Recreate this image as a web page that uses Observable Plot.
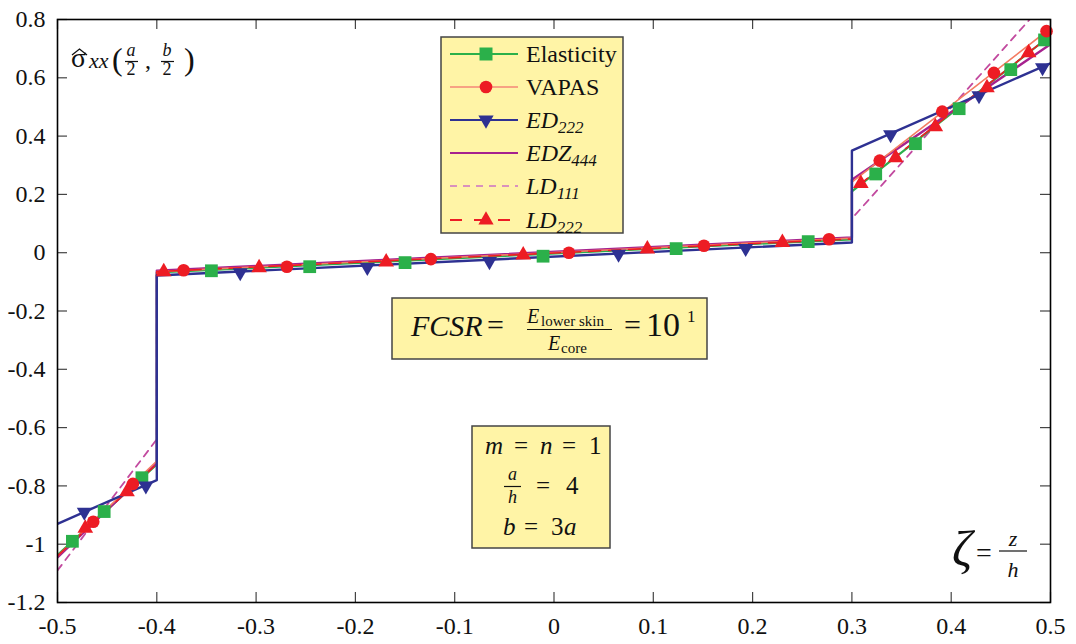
<!DOCTYPE html>
<html><head><meta charset="utf-8">
<script src="https://cdn.jsdelivr.net/npm/d3@7"></script>
<script src="https://cdn.jsdelivr.net/npm/@observablehq/plot@0.6"></script>
<style>
body{margin:0;background:#fff}
#chart{position:relative;width:1076px;height:644px}
#chart svg, #chart svg text{font-family:"Liberation Serif",serif !important}
</style>
</head><body><div id="chart"></div>
<script>
// ---------- data ----------
const xTicks = [-0.5,-0.4,-0.3,-0.2,-0.1,0,0.1,0.2,0.3,0.4,0.5];
const xTickLabels = ["-0.5","-0.4","-0.3","-0.2","-0.1","0","0.1","0.2","0.3","0.4","0.5"];
const yTicks = [-1.2,-1,-0.8,-0.6,-0.4,-0.2,0,0.2,0.4,0.6,0.8];
const yTickLabels = ["-1.2","-1","-0.8","-0.6","-0.4","-0.2","0","0.2","0.4","0.6","0.8"];

const seriesNames = ["Elasticity","VAPAS","ED222","EDZ444","LD111","LD222"];

// line breakpoints (z/h): lower skin | core | upper skin
const zBreaks = [-0.5,-0.4,-0.4,0.3,0.3,0.5];
const elasticityLine = [-1.037,-0.726,-0.068,0.046,0.21,0.745];
const vapasLine      = [-1.04,-0.715,-0.065,0.05,0.242,0.77];
const ed222Line      = [-0.93,-0.78,-0.078,0.035,0.35,0.65];
const edz444Line     = [-1.045,-0.72,-0.062,0.052,0.25,0.715];
const ld111Line      = [-1.09,-0.64,-0.063,0.05,0.117,0.88];
const ld222Line      = [-1.04,-0.725,-0.065,0.047,0.213,0.745];

// marker positions
const elasticityMarkZ = [-0.485,-0.453,-0.415,-0.345,-0.246,-0.15,-0.011,0.123,0.256,0.324,0.364,0.408,0.46,0.494];
const elasticityMarkS = [-0.99,-0.888,-0.772,-0.062,-0.048,-0.034,-0.012,0.014,0.038,0.27,0.374,0.494,0.628,0.73];
const vapasMarkZ = [-0.464,-0.424,-0.373,-0.269,-0.124,0.015,0.151,0.277,0.328,0.391,0.443,0.496];
const vapasMarkS = [-0.923,-0.793,-0.06,-0.048,-0.022,0.0,0.024,0.046,0.316,0.484,0.617,0.76];
const ed222MarkZ = [-0.473,-0.411,-0.316,-0.188,-0.065,0.065,0.193,0.339,0.428,0.492];
const ed222MarkS = [-0.89,-0.8,-0.068,-0.05,-0.03,-0.005,0.015,0.405,0.539,0.635];
const ld222MarkZ = [-0.472,-0.43,-0.393,-0.297,-0.169,-0.031,0.094,0.23,0.309,0.344,0.384,0.436,0.478];
const ld222MarkS = [-0.945,-0.82,-0.065,-0.052,-0.032,-0.008,0.013,0.035,0.237,0.326,0.432,0.566,0.686];

// ---------- tables ----------
const toRows = (zs, ss) => zs.map((z,i)=>({z, s: ss[i]}));
const lineElasticity = toRows(zBreaks, elasticityLine);
const lineVapas = toRows(zBreaks, vapasLine);
const lineEd222 = toRows(zBreaks, ed222Line);
const lineEdz444 = toRows(zBreaks, edz444Line);
const lineLd111 = toRows(zBreaks, ld111Line);
const lineLd222 = toRows(zBreaks, ld222Line);

const C = {
  elasticity: "#2bb04a",
  vapasLine: "#f47c62",
  red: "#ed1c24",
  blue: "#2e3192",
  purple: "#a6218e",
  ld111: "#c24a9f"
};

const W = 1076, H = 644, ML = 57, MR = 26, MT = 19, MB = 42;
const FW = W - ML - MR, FH = H - MT - MB;
const FONT = "Liberation Serif, serif";

const plot = Plot.plot({
  width: W, height: H,
  marginLeft: ML, marginRight: MR, marginTop: MT, marginBottom: MB,
  style: {fontFamily: FONT, background: "white", color: "#111"},
  x: {domain: [-0.5, 0.5]},
  y: {domain: [-1.2, 0.8]},
  marks: [
    Plot.axisX({ticks: xTicks, tickSize: 0, tickPadding: 14, fontSize: 24,
      tickFormat: d => xTickLabels[xTicks.indexOf(d)], label: null}),
    Plot.axisY({ticks: yTicks, tickSize: 0, tickPadding: 12, fontSize: 24,
      tickFormat: d => yTickLabels[yTicks.indexOf(d)], label: null}),
    // inward ticks
    Plot.tickX(xTicks, {x: d => d, insetTop: FH - 10, stroke: "#444", strokeWidth: 1.2}),
    Plot.tickX(xTicks, {x: d => d, insetBottom: FH - 10, stroke: "#444", strokeWidth: 1.2}),
    Plot.tickY(yTicks, {y: d => d, insetRight: FW - 10, stroke: "#444", strokeWidth: 1.2}),
    Plot.tickY(yTicks, {y: d => d, insetLeft: FW - 10, stroke: "#444", strokeWidth: 1.2}),
    // lines
    Plot.line(lineLd111, {x: "z", y: "s", stroke: C.ld111, strokeWidth: 1.8, strokeDasharray: "7,6", clip: true}),
    Plot.line(lineElasticity, {x: "z", y: "s", stroke: C.elasticity, strokeWidth: 2.2, clip: true}),
    Plot.line(lineEdz444, {x: "z", y: "s", stroke: C.purple, strokeWidth: 2.4, clip: true}),
    Plot.line(lineVapas, {x: "z", y: "s", stroke: C.vapasLine, strokeWidth: 1.6, clip: true}),
    Plot.line(lineLd222, {x: "z", y: "s", stroke: C.red, strokeWidth: 1.6, strokeDasharray: "12,8", clip: true}),
    Plot.line(lineEd222, {x: "z", y: "s", stroke: C.blue, strokeWidth: 2.4, clip: true}),
    // markers
    Plot.dot(toRows(elasticityMarkZ, elasticityMarkS), {x: "z", y: "s", symbol: "square", r: 7.2, fill: C.elasticity, stroke: "none"}),
    Plot.dot(toRows(vapasMarkZ, vapasMarkS), {x: "z", y: "s", symbol: "circle", r: 6.3, fill: C.red, stroke: "none"}),
    Plot.dot(toRows(ed222MarkZ, ed222MarkS), {x: "z", y: "s", symbol: "triangle", r: 5.6, rotate: 180, fill: C.blue, stroke: "none"}),
    Plot.dot(toRows(ld222MarkZ, ld222MarkS), {x: "z", y: "s", symbol: "triangle", r: 5.8, fill: C.red, stroke: "none"}),
    Plot.frame({stroke: "#000", strokeWidth: 1.6})
  ]
});
document.getElementById("chart").appendChild(plot);

// ---------- annotations ----------
const svg = d3.select(plot);
const ann = svg.append("g").attr("font-family", FONT).attr("fill", "#111").attr("text-anchor", "start");
function t(x, y, s, size, opts = {}) {
  const e = ann.append("text").attr("x", x).attr("y", y).attr("font-size", size)
    .attr("text-anchor", opts.anchor || "start").text(s);
  if (opts.italic) e.attr("font-style", "italic");
  return e;
}
function hline(x1, x2, y, w = 1.2) {
  ann.append("line").attr("x1", x1).attr("x2", x2).attr("y1", y).attr("y2", y)
    .attr("stroke", "#111").attr("stroke-width", w);
}
const BOXFILL = "#fff4a6", BOXSTROKE = "#444";
function box(x, y, w, h) {
  ann.append("rect").attr("x", x).attr("y", y).attr("width", w).attr("height", h)
    .attr("fill", BOXFILL).attr("stroke", BOXSTROKE).attr("stroke-width", 1.5);
}

// sigma hat label
t(71, 67, "σ", 28);
ann.append("path").attr("d", "M72,55 L79.5,49 L87,55").attr("fill", "none").attr("stroke", "#111").attr("stroke-width", 1.3);
t(89, 68, "xx", 22, {italic: true});
t(112, 70, "(", 32);
t(131, 56, "a", 18, {italic: true, anchor: "middle"});
hline(125, 138, 61.5);
t(131, 75, "2", 18, {anchor: "middle"});
t(145, 68, ",", 24);
t(167, 56, "b", 18, {italic: true, anchor: "middle"});
hline(161, 174, 61.5);
t(167, 75, "2", 18, {anchor: "middle"});
t(184, 70, ")", 32);

// legend
box(441, 37, 182, 196);
const legendY = [54, 87, 120, 153, 186, 220];
const legendMain = ["Elasticity","VAPAS","ED","EDZ","LD","LD"];
const legendSub  = ["","","222","444","111","222"];
const legendItalic = [false,false,true,true,true,true];
const legendStyle = [
  {stroke: C.elasticity, w: 2, dash: null, sym: d3.symbolSquare, size: 169, fill: C.elasticity, rot: 0},
  {stroke: "#f7a283", w: 2, dash: null, sym: d3.symbolCircle, size: 125, fill: C.red, rot: 0},
  {stroke: C.blue, w: 2, dash: null, sym: d3.symbolTriangle, size: 100, fill: C.blue, rot: 180},
  {stroke: C.purple, w: 2, dash: null, sym: null},
  {stroke: "#d991bd", w: 2, dash: "7,6", sym: null},
  {stroke: C.red, w: 2, dash: "12,12", sym: d3.symbolTriangle, size: 100, fill: C.red, rot: 0}
];
legendY.forEach((y, i) => {
  const st = legendStyle[i];
  const l = ann.append("line").attr("x1", 450).attr("x2", 518).attr("y1", y).attr("y2", y)
    .attr("stroke", st.stroke).attr("stroke-width", st.w);
  if (st.dash) l.attr("stroke-dasharray", st.dash);
  if (st.sym) {
    ann.append("path").attr("d", d3.symbol(st.sym, st.size)())
      .attr("transform", `translate(486,${y}) rotate(${st.rot})`).attr("fill", st.fill);
  }
  const tx = ann.append("text").attr("x", 526).attr("y", y + 8).attr("font-size", 24).attr("text-anchor", "start");
  const m = tx.append("tspan").text(legendMain[i]);
  if (legendItalic[i]) m.attr("font-style", "italic");
  if (legendSub[i]) tx.append("tspan").attr("font-size", 17).attr("dy", 5).attr("font-style", "italic").text(legendSub[i]);
});

// FCSR box
box(392, 298, 315, 61);
t(411, 336, "FCSR", 30, {italic: true});
t(487, 335, "=", 30);
t(527, 323, "E", 20, {italic: true});
t(541, 326, "lower skin", 15);
hline(527, 612, 329.5);
t(548, 350, "E", 20, {italic: true});
t(561, 353, "core", 15);
t(624, 335, "=", 30);
t(646, 336, "10", 34);
t(687, 322, "1", 17);

// m n box
box(472, 426, 138, 122);
t(485, 454, "m", 25, {italic: true});
t(514, 454, "=", 25);
t(540, 454, "n", 25, {italic: true});
t(562, 454, "=", 25);
t(589, 454, "1", 25);
t(512.5, 480, "a", 18, {italic: true, anchor: "middle"});
hline(504, 521, 486.5);
t(512.5, 503, "h", 18, {italic: true, anchor: "middle"});
t(536, 494, "=", 25);
t(566, 494, "4", 25);
t(503, 535, "b", 25, {italic: true});
t(524, 535, "=", 25);
t(551, 535, "3", 25);
t(564, 535, "a", 25, {italic: true});

// zeta label
t(952, 566, "ζ", 50, {italic: true});
t(976, 562, "=", 28);
t(1013, 546, "z", 22, {italic: true, anchor: "middle"});
hline(999, 1027, 551);
t(1013, 577, "h", 22, {italic: true, anchor: "middle"});
</script>
</body></html>
